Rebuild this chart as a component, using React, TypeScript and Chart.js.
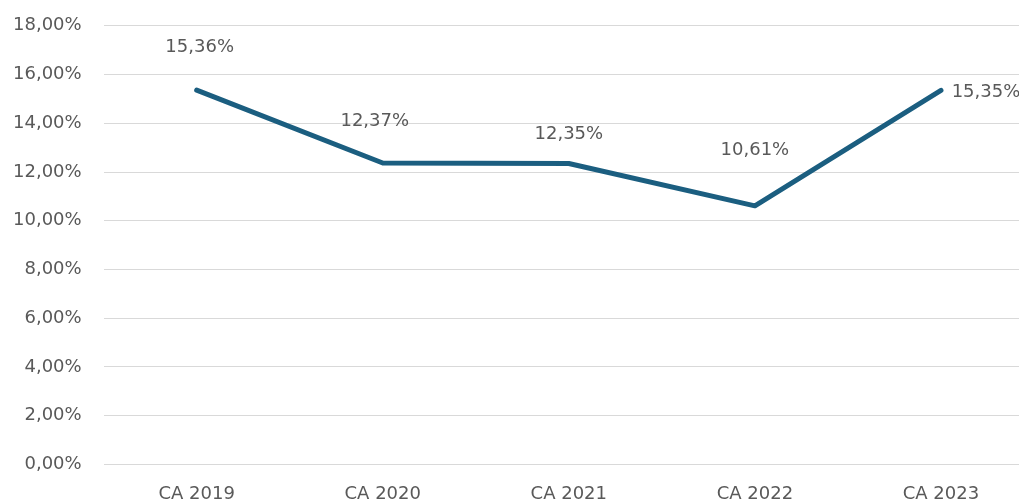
import React, { useEffect, useRef } from "react";
import { Chart, registerables } from "chart.js";

Chart.register(...registerables);

const categories = ["CA 2019", "CA 2020", "CA 2021", "CA 2022", "CA 2023"];
const values = [15.36, 12.37, 12.35, 10.61, 15.35];
const valueLabels = ["15,36%", "12,37%", "12,35%", "10,61%", "15,35%"];
const labelOffsets = [
  [3, -43],
  [-8, -42],
  [0, -29],
  [0, -56],
  [45, 2],
];

const FONT = "'DejaVu Sans', sans-serif";
const TEXT = "#595959";

const fmt = (v: number) => v.toFixed(2).replace(".", ",") + "%";

const labelPlugin = {
  id: "valueLabels",
  afterDatasetsDraw(chart: any) {
    const ctx = chart.ctx;
    const meta = chart.getDatasetMeta(0);
    ctx.save();
    ctx.font = `18px ${FONT}`;
    ctx.fillStyle = TEXT;
    ctx.textAlign = "center";
    ctx.textBaseline = "middle";
    meta.data.forEach((pt: any, i: number) => {
      const [dx, dy] = labelOffsets[i];
      ctx.fillText(valueLabels[i], pt.x + dx, pt.y + dy);
    });
    ctx.restore();
  },
};

export default function App() {
  const ref = useRef<HTMLCanvasElement>(null);
  useEffect(() => {
    document.body.style.margin = "0";
    document.body.style.overflow = "hidden";
    const chart = new Chart(ref.current!, {
      type: "line",
      data: {
        labels: categories,
        datasets: [
          {
            data: values,
            borderColor: "#1B5E80",
            borderWidth: 5,
            pointRadius: 0,
            borderCapStyle: "round",
            borderJoinStyle: "round",
            tension: 0,
            fill: false,
          },
        ],
      },
      options: {
        responsive: false,
        animation: false,
        layout: { padding: { left: 13, top: 18, right: 0, bottom: 0 } },
        plugins: { legend: { display: false }, tooltip: { enabled: false } },
        scales: {
          x: {
            offset: true,
            grid: { display: false, drawTicks: false },
            border: { display: false },
            ticks: { color: TEXT, font: { family: FONT, size: 18 }, padding: 19, maxRotation: 0 },
          },
          y: {
            min: 0,
            max: 18,
            grid: { color: "#d9d9d9", lineWidth: 1, drawTicks: false },
            border: { display: false },
            ticks: {
              stepSize: 2,
              color: TEXT,
              font: { family: FONT, size: 18 },
              padding: 22,
              callback: (v: any) => fmt(Number(v)),
            },
          },
        },
      },
      plugins: [labelPlugin],
    });
    return () => chart.destroy();
  }, []);
  return (
    <div style={{ width: 1056, height: 531, marginLeft: -22, marginTop: -7, overflow: "visible" }}>
      <canvas ref={ref} width={1056} height={531} style={{ display: "block" }} />
    </div>
  );
}
